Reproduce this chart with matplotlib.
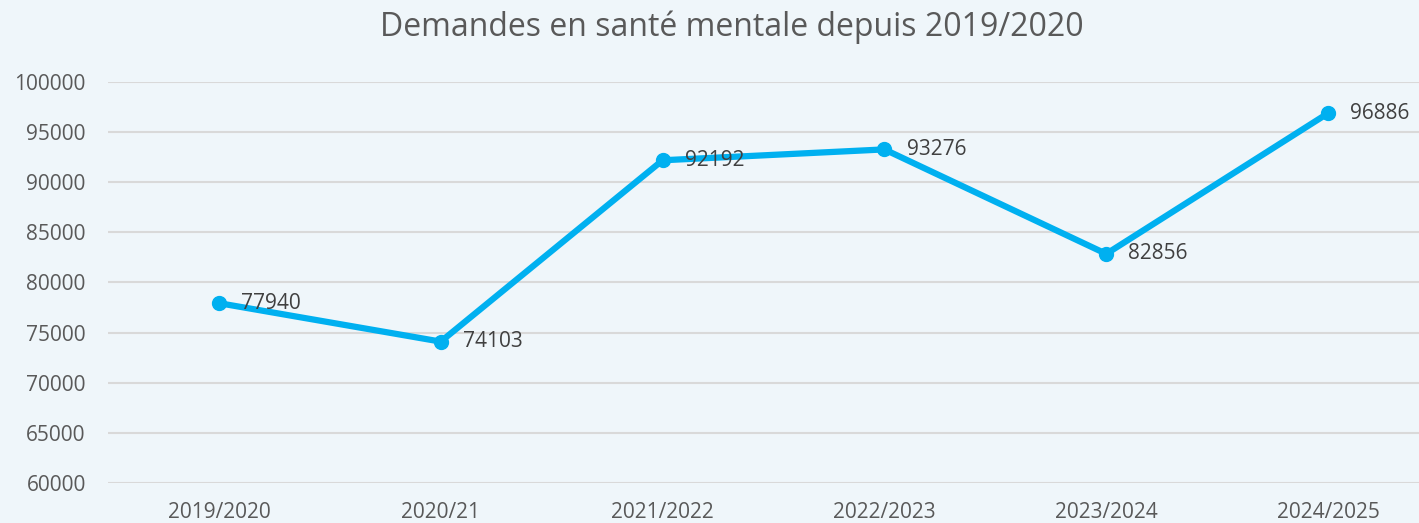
import matplotlib
matplotlib.use("Agg")
import matplotlib.pyplot as plt

categories = ["2019/2020", "2020/21", "2021/2022", "2022/2023", "2023/2024", "2024/2025"]
values = [77940, 74103, 92192, 93276, 82856, 96886]
yticks = [60000, 65000, 70000, 75000, 80000, 85000, 90000, 95000, 100000]
title = "Demandes en santé mentale depuis 2019/2020"

W, H = 1419, 523
bg = "#EFF6FA"
txt = "#595959"
line_c = "#00B0F0"
plt.rcParams['font.family'] = ['Open Sans', 'DejaVu Sans']

fig = plt.figure(figsize=(W/100, H/100), dpi=100, facecolor=bg)
left, right = 108, 1439
bottom_px, top_px = 483, 82
ax = fig.add_axes([left/W, (H-bottom_px)/H, (right-left)/W, (bottom_px-top_px)/H])
ax.set_facecolor(bg)
x = list(range(len(categories)))
ax.plot(x, values, color=line_c, lw=4.5, marker="o", ms=10, solid_capstyle="round", zorder=3, clip_on=False)
for xi, v in zip(x, values):
    ax.annotate(str(v), (xi, v), xytext=(16, 0), textcoords="offset points",
                ha="left", va="center", fontsize=15, color="#404040", zorder=4)
ax.set_xlim(-0.5, len(categories)-0.5)
ax.set_ylim(60000, 100000)
ax.set_yticks(yticks)
ax.set_yticklabels([str(t) for t in yticks])
ax.set_xticks(x)
ax.set_xticklabels(categories)
ax.grid(axis="y", color="#D9D9D9", lw=1.5, zorder=0)
ax.set_axisbelow(True)
for s in ax.spines.values():
    s.set_visible(False)
ax.tick_params(axis="both", length=0, labelsize=15, labelcolor=txt)
ax.tick_params(axis="y", pad=16)
ax.tick_params(axis="x", pad=14)
fig.text(732/W, 1-27/H, title, ha="center", va="center", fontsize=23, color=txt)
fig.savefig("out.png", dpi=100, facecolor=bg)
